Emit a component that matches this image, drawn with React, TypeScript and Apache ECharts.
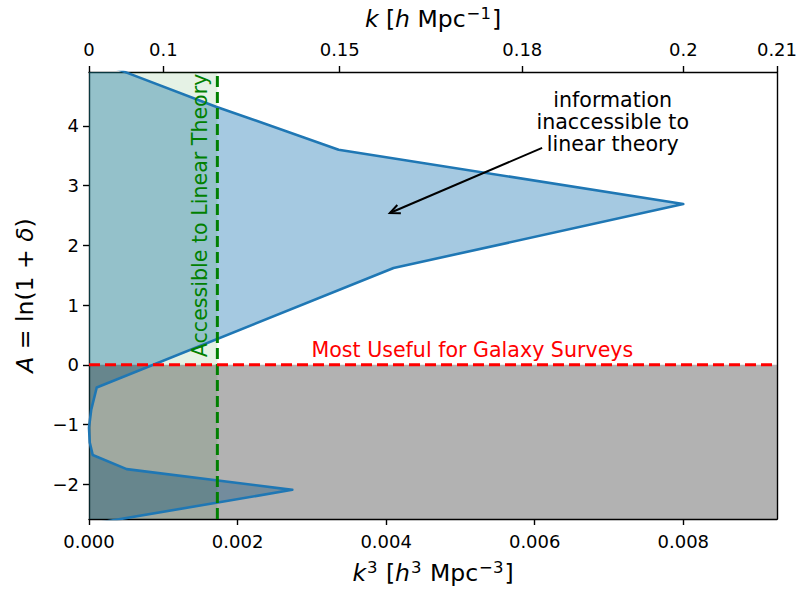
import React, { useEffect, useRef } from "react";
import * as echarts from "echarts";

// ---- data ----
const topTickK = [0, 0.1, 0.15, 0.18, 0.2, 0.21];
const topTickLabels = ["0", "0.1", "0.15", "0.18", "0.2", "0.21"];
const bottomTicks = [0, 0.002, 0.004, 0.006, 0.008];
const yTicks = [-2, -1, 0, 1, 2, 3, 4];
const xMax = Math.pow(0.21, 3);
const yMin = -2.58;
const yMax = 4.9;
const kLinear = 0.12;
// boundary curve (k^3, A)
const curveK3 = [0.0, 0.000507, 0.00171, 0.00336, 0.008, 0.0041, 0.000104, 0.00003, 0.0, 0.00001, 0.00005, 0.000507, 0.002737, 0.0];
const curveA = [5.13, 4.89, 4.32, 3.6, 2.69, 1.62, -0.38, -0.75, -1.05, -1.3, -1.51, -1.746, -2.092, -2.67];
const noteLines = ["information", "inaccessible to", "linear theory"];
const noteAt = [0.00705, 4.07];
const arrowFrom = [0.0061, 3.63];
const arrowTo = [0.00405, 2.54];
const greenText = "Accessible to Linear Theory";
const greenTextAt = [0.0015, 2.5];
const redText = "Most Useful for Galaxy Surveys";
const redTextAt = [0.00516, 0.25];

const FONT = "DejaVu Sans";

export default function App() {
  const ref = useRef<HTMLDivElement>(null);
  useEffect(() => {
    if (!ref.current) return;
    const chart = echarts.init(ref.current, null, { renderer: "svg" });
    const kLin3 = Math.pow(kLinear, 3);
    const curve = curveK3.map((x, i) => [x, curveA[i]]);
    const tickStyle = { show: true, inside: false, length: 6, lineStyle: { color: "#000", width: 1.4 } };
    const lblStyle = { color: "#000", fontSize: 18, fontFamily: FONT };
    const NF = 23.5;
    const nameStyle = (extra: any = {}) => ({
      color: "#000",
      fontSize: NF,
      fontFamily: FONT,
      rich: {
        n: { fontSize: NF, fontFamily: FONT, color: "#000" },
        i: { fontStyle: "italic", fontSize: NF, fontFamily: FONT, color: "#000" },
        sup: { fontSize: 16.5, fontFamily: FONT, color: "#000", padding: [0, 1, 10, 1] },
      },
      ...extra,
    });
    const option: any = {
      animation: false,
      backgroundColor: "#fff",
      grid: { left: 89, right: 23, top: 72, bottom: 72, containLabel: false },
      xAxis: [
        {
          type: "value",
          position: "bottom",
          min: 0,
          max: xMax,
          axisLine: { show: true, onZero: false, lineStyle: { color: "#000", width: 1.4 } },
          axisTick: { ...tickStyle, customValues: bottomTicks },
          axisLabel: { ...lblStyle, margin: 13, customValues: bottomTicks, formatter: (v: number) => v.toFixed(3) },
          splitLine: { show: false },
          name: "{i|k}{sup|3}{n| [}{i|h}{sup|3}{n| Mpc}{sup|−3}{n|]}",
          nameLocation: "middle",
          nameGap: 40,
          nameTextStyle: nameStyle(),
        },
        {
          type: "value",
          position: "top",
          min: 0,
          max: xMax,
          axisLine: { show: true, onZero: false, lineStyle: { color: "#000", width: 1.4 } },
          axisTick: { ...tickStyle, customValues: topTickK.map((k) => Math.pow(k, 3)) },
          axisLabel: {
            ...lblStyle,
            margin: 14,
            customValues: topTickK.map((k) => Math.pow(k, 3)),
            formatter: (v: number) => {
              let best = 0;
              topTickK.forEach((k, i) => {
                if (Math.abs(Math.pow(k, 3) - v) < Math.abs(Math.pow(topTickK[best], 3) - v)) best = i;
              });
              return topTickLabels[best];
            },
          },
          splitLine: { show: false },
          name: "{i|k}{n| [}{i|h}{n| Mpc}{sup|−1}{n|]}",
          nameLocation: "middle",
          nameGap: 40,
          nameTextStyle: nameStyle(),
        },
      ],
      yAxis: [
        {
          type: "value",
          position: "left",
          min: yMin,
          max: yMax,
          axisLine: { show: true, onZero: false, lineStyle: { color: "#000", width: 1.4 } },
          axisTick: { ...tickStyle, customValues: yTicks },
          axisLabel: {
            ...lblStyle,
            margin: 10,
            customValues: yTicks,
            formatter: (v: number) => (v < 0 ? "\u2212" + Math.abs(v) : String(v)),
          },
          splitLine: { show: false },
          name: "{i|A}{n| = ln(1 + }{i|δ}{n|)}",
          nameLocation: "middle",
          nameGap: 52,
          nameTextStyle: nameStyle(),
        },
        {
          type: "value",
          position: "right",
          min: yMin,
          max: yMax,
          axisLine: { show: true, onZero: false, lineStyle: { color: "#000", width: 1.4 } },
          axisTick: { show: false },
          axisLabel: { show: false },
          splitLine: { show: false },
        },
      ],
      series: [
        {
          type: "custom",
          clip: true,
          silent: true,
          data: [[0, 0]],
          renderItem: (_p: any, api: any) => ({
            type: "polygon",
            shape: { points: curve.map((c) => api.coord(c)) },
            style: { fill: "rgba(31,119,180,0.4)" },
          }),
          z: 1,
        },
        {
          type: "custom",
          clip: true,
          silent: true,
          data: [[0, 0]],
          renderItem: (_p: any, api: any) => {
            const a = api.coord([0, yMax]);
            const b = api.coord([kLin3, yMin]);
            return { type: "rect", shape: { x: a[0], y: a[1], width: b[0] - a[0], height: b[1] - a[1] }, style: { fill: "rgba(0,128,0,0.1)" } };
          },
          z: 1,
        },
        {
          type: "custom",
          clip: true,
          silent: true,
          data: [[0, 0]],
          renderItem: (_p: any, api: any) => {
            const a = api.coord([0, 0]);
            const b = api.coord([xMax, yMin]);
            return { type: "rect", shape: { x: a[0], y: a[1], width: b[0] - a[0], height: b[1] - a[1] }, style: { fill: "rgba(0,0,0,0.3)" } };
          },
          z: 1,
        },
        {
          type: "line",
          data: curve,
          symbol: "none",
          silent: true,
          lineStyle: { color: "#1f77b4", width: 2.6, join: "round" },
          z: 2,
        },
        {
          type: "line",
          data: [[kLin3, yMin], [kLin3, yMax]],
          symbol: "none",
          silent: true,
          lineStyle: { color: "#008000", width: 3, type: [11, 5] },
          z: 3,
        },
        {
          type: "line",
          data: [[0, 0], [xMax, 0]],
          symbol: "none",
          silent: true,
          lineStyle: { color: "#ff0000", width: 3, type: [11, 5] },
          z: 3,
        },
        {
          type: "custom",
          silent: true,
          data: [[0, 0]],
          renderItem: (_p: any, api: any) => {
            const g = api.coord(greenTextAt);
            const r = api.coord(redTextAt);
            const n = api.coord(noteAt);
            const f = api.coord(arrowFrom);
            const t = api.coord(arrowTo);
            const ang = Math.atan2(f[1] - t[1], f[0] - t[0]);
            const hl = 11;
            const hw = 0.42;
            const h1 = [t[0] + hl * Math.cos(ang + hw), t[1] + hl * Math.sin(ang + hw)];
            const h2 = [t[0] + hl * Math.cos(ang - hw), t[1] + hl * Math.sin(ang - hw)];
            const fs = 20.6;
            return {
              type: "group",
              children: [
                {
                  type: "text",
                  x: g[0],
                  y: g[1],
                  rotation: Math.PI / 2,
                  style: { text: greenText, fill: "#008000", fontSize: fs, fontFamily: FONT, align: "center", verticalAlign: "middle" },
                },
                {
                  type: "text",
                  x: r[0],
                  y: r[1],
                  style: { text: redText, fill: "#ff0000", fontSize: fs, fontFamily: FONT, align: "center", verticalAlign: "middle" },
                },
                {
                  type: "text",
                  x: n[0],
                  y: n[1],
                  style: { text: noteLines.join("\n"), fill: "#000", fontSize: fs, lineHeight: 22, fontFamily: FONT, align: "center", verticalAlign: "middle" },
                },
                { type: "line", shape: { x1: f[0], y1: f[1], x2: t[0], y2: t[1] }, style: { stroke: "#000", lineWidth: 2 } },
                { type: "polyline", shape: { points: [h1, t, h2] }, style: { stroke: "#000", lineWidth: 2, fill: null } },
              ],
            };
          },
          z: 4,
        },
      ],
    };
    chart.setOption(option);
    return () => chart.dispose();
  }, []);
  return <div ref={ref} style={{ width: 800, height: 591, position: "absolute", left: 0, top: 0 }} />;
}
